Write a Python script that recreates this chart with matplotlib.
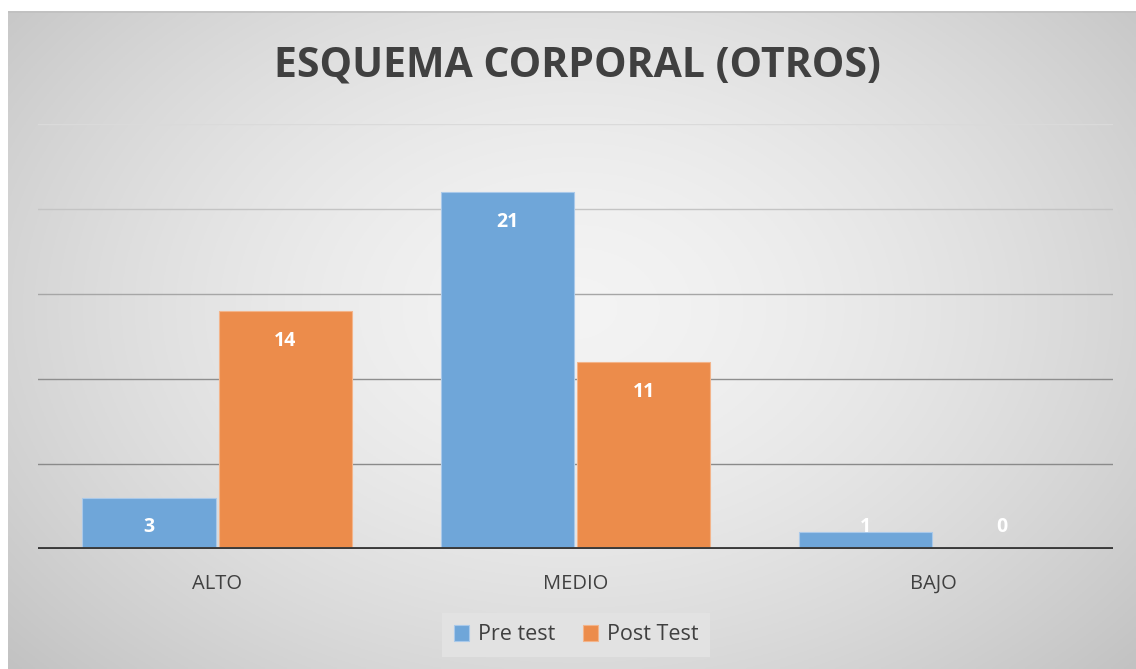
import numpy as np
import matplotlib
matplotlib.use("Agg")
import matplotlib.pyplot as plt

categories = ["ALTO", "MEDIO", "BAJO"]
pre_test = [3, 21, 1]
post_test = [14, 11, 0]
series_names = ["Pre test", "Post Test"]
title = "ESQUEMA CORPORAL (OTROS)"

W, H = 1136, 669
fig = plt.figure(figsize=(W / 100, H / 100), dpi=100)
fig.patch.set_facecolor("white")

# background radial gradient panel
bx0, by0 = 8 / W, 0
bw, bh = 1 - bx0, (H - 11) / H
bg = fig.add_axes([bx0, by0, bw, bh], zorder=0)
ny, nx = 300, 500
yy, xx = np.mgrid[0:ny, 0:nx]
cx, cy = 0.5 * nx, 0.45 * ny
r = np.sqrt(((xx - cx) / (0.62 * nx)) ** 2 + ((yy - cy) / (0.75 * ny)) ** 2)
val = 0.955 - 0.17 * np.clip(r, 0, 1.2) ** 1.6
img = np.dstack([val, val, val])
bg.imshow(img, aspect="auto", extent=[0, 1, 0, 1], origin="upper")
bg.plot([0, 1], [0.999, 0.999], color="#c0c0c0", lw=1.2, transform=bg.transAxes)
bg.set_xlim(0, 1); bg.set_ylim(0, 1)
bg.axis("off")

ax = fig.add_axes([38 / W, 120 / H, (1113 - 38) / W, (549 - 124) / H], zorder=1)
ax.patch.set_alpha(0)
x = np.arange(len(categories))
off, bw_ = 0.19, 0.372
blue, orange = "#6fa6d9", "#ec8c4b"

grid_cols = {5: "#8a8a8a", 10: "#8e8e8e", 15: "#a6a6a6", 20: "#c4c4c4", 25: "#dadada"}
for g, c in grid_cols.items():
    ax.axhline(g, color=c, lw=1.0, zorder=1)

b1 = ax.bar(x - off, pre_test, bw_, color=blue, edgecolor="#a9c9ea", lw=0.8, zorder=2, label=series_names[0])
b2 = ax.bar(x + off, post_test, bw_, color=orange, edgecolor="#f3b48a", lw=0.8, zorder=2, label=series_names[1])
ax.axhline(0, color="#3a3a3a", lw=2.8, zorder=3)

for bars, vals in ((b1, pre_test), (b2, post_test)):
    for rect, v in zip(bars, vals):
        ty = max(v - 1.75, 1.3)
        ax.text(rect.get_x() + rect.get_width() / 2, ty, str(v), ha="center", va="center",
                color="white", fontsize=14, fontweight="bold", family="Open Sans", zorder=4)

ax.set_xlim(-0.5, 2.5)
ax.set_ylim(0, 25)
ax.set_yticks([])
ax.set_xticks(x)
ax.set_xticklabels(categories, fontsize=14.5, color="#404040", family="Open Sans")
ax.tick_params(axis="x", length=0, pad=18)
for s in ax.spines.values():
    s.set_visible(False)

fig.text(577 / W, 1 - 66 / H, title, ha="center", va="center", fontsize=29.5,
         fontweight="bold", color="#404040", family="Open Sans")

leg = fig.legend(handles=[b1, b2], labels=series_names, loc="center", bbox_to_anchor=(576 / W, 1 - 635 / H),
                 ncol=2, frameon=True, handlelength=0.7, handleheight=0.7,
                 handletextpad=0.4, columnspacing=1.3, borderpad=0.55, fancybox=False,
                 prop={"family": "Open Sans", "size": 15.5})
leg.get_frame().set_facecolor("#e2e2e2")
leg.get_frame().set_edgecolor("none")
leg.get_frame().set_alpha(1)
for t in leg.get_texts():
    t.set_color("#404040")

fig.savefig("out.png", dpi=100)
